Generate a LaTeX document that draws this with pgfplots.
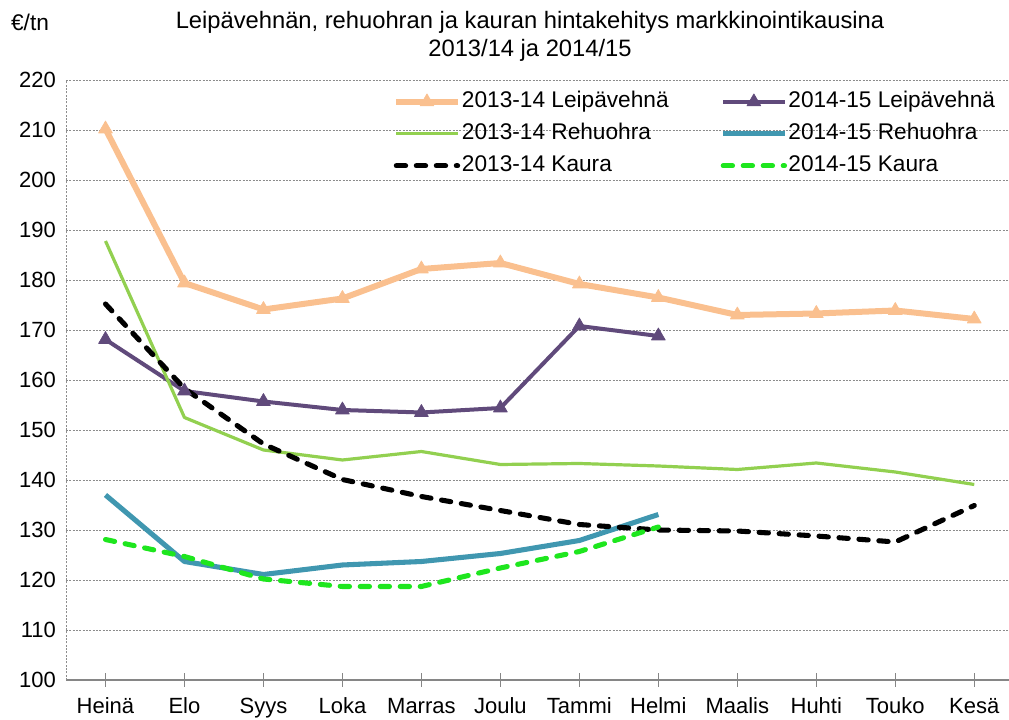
\documentclass[border=0pt]{standalone}
\usepackage{fontspec}
\setmainfont{Liberation Sans}
\usepackage{pgfplots}
\pgfplotsset{compat=1.18}

\definecolor{leipA}{HTML}{FAC08F}
\definecolor{leipB}{HTML}{604A7B}
\definecolor{rehuA}{HTML}{92D050}
\definecolor{rehuB}{HTML}{4097B0}
\definecolor{kauraB}{HTML}{1EE61E}
\definecolor{gridgray}{HTML}{8C8C8C}
\definecolor{axisgray}{HTML}{868686}

\begin{document}
\begin{tikzpicture}
\begin{axis}[
    scale only axis,
    width=707.25pt, height=450pt,
    xmin=-0.5, xmax=11.44,
    ymin=100, ymax=220,
    xtick={0,...,11},
    xticklabels={Heinä,Elo,Syys,Loka,Marras,Joulu,Tammi,Helmi,Maalis,Huhti,Touko,Kesä},
    ytick={100,110,...,220},
    axis lines*=left,
    x axis line style={draw=axisgray, line width=1pt},
    y axis line style={draw=gridgray, line width=0.6pt, dash pattern=on 1.5pt off 1pt},
    ymajorgrids,
    major grid style={draw=gridgray, line width=0.6pt, dash pattern=on 1.5pt off 1pt},
    tick align=center,
    major tick length=10pt,
    xtick style={draw=axisgray, line width=1pt},
    ytick style={draw=none},
    tick label style={font=\fontsize{16.5}{18}\selectfont},
    xticklabel style={yshift=-5pt},
    yticklabel style={xshift=1pt},
    /pgf/number format/assume math mode=true,
    legend columns=2,
    legend cell align=left,
    legend style={draw=none, fill=none, inner sep=0pt,
        at={(axis description cs:0.3468,0.984)}, anchor=north west,
        font=\fontsize{17}{19}\selectfont, row sep=6pt,
        nodes={inner sep=1pt, text height=12pt, text depth=4pt},
        /tikz/every even column/.append style={column sep=38pt}},
    legend image code/.code={%
        \draw[mark repeat=2,mark phase=2] plot coordinates {(0pt,0pt) (23pt,0pt) (46pt,0pt)};},
]
% 2013-14 Leipävehnä
\addplot[leipA, line width=4.5pt, line join=round, mark=triangle*, mark size=6pt,
    mark options={solid, line width=0.5pt}] coordinates {
    (0,210.2) (1,179.4) (2,174.1) (3,176.3) (4,182.2) (5,183.4)
    (6,179.2) (7,176.5) (8,173.0) (9,173.3) (10,173.9) (11,172.2)
};
\addlegendentry{2013-14 Leipävehnä}
% 2014-15 Leipävehnä
\addplot[leipB, line width=3pt, line join=round, mark=triangle*, mark size=6pt,
    mark options={solid, line width=0.5pt}] coordinates {
    (0,168.1) (1,157.8) (2,155.7) (3,154.0) (4,153.5) (5,154.4)
    (6,170.8) (7,168.8)
};
\addlegendentry{2014-15 Leipävehnä}
% 2013-14 Rehuohra
\addplot[rehuA, line width=2.4pt, line join=round] coordinates {
    (0,187.8) (1,152.5) (2,146.0) (3,144.0) (4,145.7) (5,143.1)
    (6,143.3) (7,142.8) (8,142.1) (9,143.4) (10,141.6) (11,139.1)
};
\addlegendentry{2013-14 Rehuohra}
% 2014-15 Rehuohra
\addplot[rehuB, line width=3.8pt, line join=round] coordinates {
    (0,137.0) (1,123.7) (2,121.1) (3,123.0) (4,123.7) (5,125.3)
    (6,127.9) (7,133.1)
};
\addlegendentry{2014-15 Rehuohra}
% 2013-14 Kaura
\addplot[black, line width=3.8pt, line cap=round, line join=round,
    dash pattern=on 7pt off 8pt] coordinates {
    (0,175.2) (1,158.3) (2,147.2) (3,140.1) (4,136.7) (5,133.9)
    (6,131.1) (7,130.0) (8,129.8) (9,128.8) (10,127.6) (11,134.9)
};
\addlegendentry{2013-14 Kaura}
% 2014-15 Kaura
\addplot[kauraB, line width=3.8pt, line cap=round, line join=round,
    dash pattern=on 7pt off 8pt] coordinates {
    (0,128.1) (1,124.7) (2,120.2) (3,118.7) (4,118.7) (5,122.4)
    (6,125.7) (7,130.6)
};
\addlegendentry{2014-15 Kaura}
\end{axis}
\node[font=\fontsize{17.8}{21}\selectfont, align=center] at (348pt,483pt)
    {Leipävehnän, rehuohran ja kauran hintakehitys markkinointikausina\\2013/14 ja 2014/15};
\node[font=\fontsize{17}{19}\selectfont] at (-27pt,493.5pt) {€/tn};
\pgfresetboundingbox
\useasboundingbox (-49.5pt,-30pt) rectangle (707.25pt,510pt);
\end{tikzpicture}
\end{document}
